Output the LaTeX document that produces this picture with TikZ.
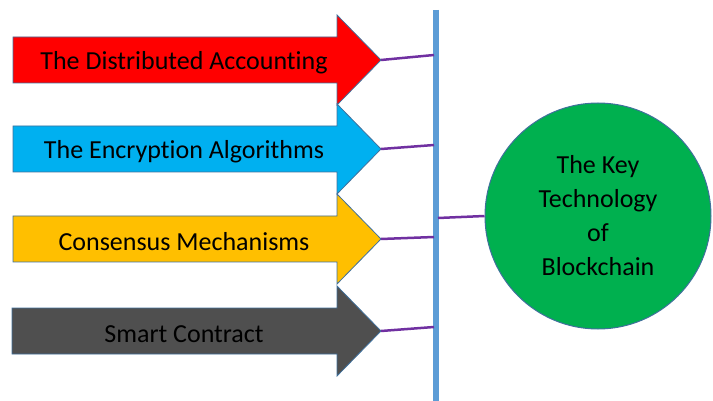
\documentclass[tikz,border=0pt]{standalone}
\usepackage{fontspec}
\setmainfont[Ligatures=NoCommon]{Carlito}
\usepackage{tikz}
\usetikzlibrary{calc}
\definecolor{accred}{rgb}{1.0, 0.0, 0.0}
\definecolor{encblue}{rgb}{0.0, 0.69, 0.94}
\definecolor{consgold}{rgb}{1.0, 0.75, 0.0}
\definecolor{smartgrey}{rgb}{0.31, 0.31, 0.31}
\definecolor{keygreen}{rgb}{0.0, 0.69, 0.31}
\definecolor{edgeblue}{rgb}{0.25, 0.44, 0.61}
\definecolor{busblue}{rgb}{0.36, 0.61, 0.84}
\definecolor{linkpurple}{rgb}{0.44, 0.19, 0.63}
\tikzset{
  bigarrow/.style={draw=edgeblue, line width=0.8pt, line join=miter},
  lbl/.style={font=\fontsize{26}{30}\selectfont, text=black},
  link/.style={linkpurple, line width=2.5pt},
  bus/.style={busblue, line width=6pt}
}
\begin{document}
\begin{tikzpicture}[x=1pt, y=-1pt]
\useasboundingbox (0,0) rectangle (713,401);

% the bus
\coordinate (busTop) at (436,10);
\coordinate (busBot) at (436,401);
\draw[bus] (busTop) -- (busBot);

% {Distributed Accounting}
\coordinate (tipA) at (381,60);
\filldraw[bigarrow, fill=accred] (13,37) -- (337,37) -- (337,15) -- (tipA) -- (337,105) -- (337,83) -- (13,83) -- cycle;
\node[lbl] (distrib) at (184,63) {The Distributed Accounting};

% {Encryption}
\coordinate (tipB) at (381,149);
\filldraw[bigarrow, fill=encblue] (13,126) -- (337,126) -- (337,104) -- (tipB) -- (337,194) -- (337,172) -- (13,172) -- cycle;
\node[lbl] (encrypt) at (184,152) {The Encryption Algorithms};

% {Consensus}
\coordinate (tipC) at (381,239);
\filldraw[bigarrow, fill=consgold] (13,216) -- (337,216) -- (337,194) -- (tipC) -- (337,284) -- (337,262) -- (13,262) -- cycle;
\node[lbl] (consensus) at (184,242) {Consensus Mechanisms};

% {Smart Contract}
\coordinate (tipD) at (381,331);
\filldraw[bigarrow, fill=smartgrey] (12,308) -- (337,308) -- (337,286) -- (tipD) -- (337,376) -- (337,354) -- (12,354) -- cycle;
\node[lbl] (smart) at (184,334) {Smart Contract};

% links to the bus
\coordinate (busA) at (434,55);
\coordinate (busB) at (434,145);
\coordinate (busC) at (434,237);
\coordinate (busD) at (434,327);
\draw[link] (tipA) -- (busA);
\draw[link] (tipB) -- (busB);
\draw[link] (tipC) -- (busC);
\draw[link] (tipD) -- (busD);

% the key technology
\node[circle, draw=edgeblue, line width=1pt, fill=keygreen, minimum size=226pt, inner sep=0pt,
      align=center, font=\fontsize{26}{34}\selectfont] (key) at (598,216)
      {The Key\\Technology\\of\\Blockchain};
\coordinate (busK) at (438,218);
\draw[link] (busK) -- (key.west);

\end{tikzpicture}
\end{document}
